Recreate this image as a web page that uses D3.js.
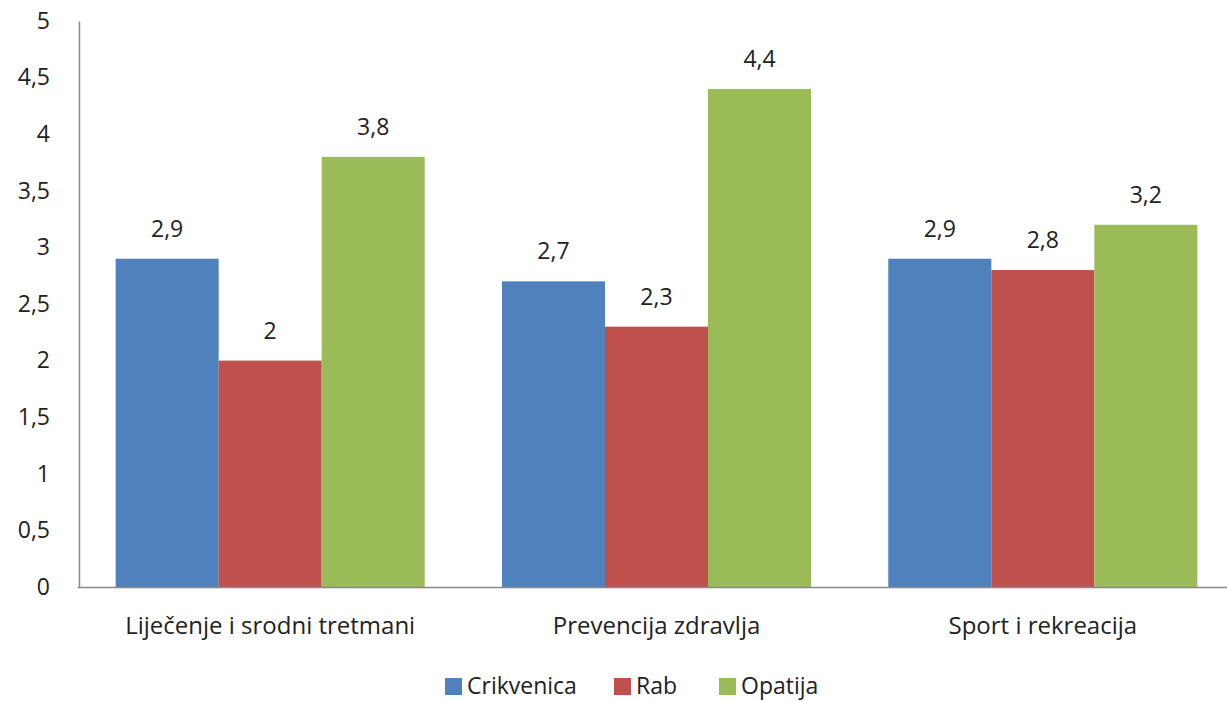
<!DOCTYPE html>
<html>
<head>
<meta charset="utf-8">
<script src="https://cdn.jsdelivr.net/npm/d3@7"></script>
<style>
  body { margin: 0; background: white; }
  text { font-family: "Open Sans", Lato, sans-serif; fill: #222; }
</style>
</head>
<body>
<div id="chart"></div>
<script>
var categories = ["Liječenje i srodni tretmani", "Prevencija zdravlja", "Sport i rekreacija"];
var seriesNames = ["Crikvenica", "Rab", "Opatija"];
var seriesColors = ["#4F81BD", "#C0504D", "#9BBB59"];
var crikvenica = [2.9, 2.7, 2.9];
var rab = [2.0, 2.3, 2.8];
var opatija = [3.8, 4.4, 3.2];
var yTicks = [0, 0.5, 1, 1.5, 2, 2.5, 3, 3.5, 4, 4.5, 5];

var seriesValues = [crikvenica, rab, opatija];
var width = 1227, height = 701;
var plotLeft = 79, plotRight = 1236, plotTop = 21, plotBottom = 587;
var font = "'Open Sans', Lato, sans-serif";

var fmt = function (v) { return String(v).replace(".", ","); };

var svg = d3.select("#chart").append("svg")
            .attr("width", width)
            .attr("height", height);

var x = d3.scaleBand().domain(categories).range([plotLeft - 2, plotRight]).paddingInner(0.2).paddingOuter(0.1);
var xs = d3.scaleBand().domain(seriesNames).range([0, x.bandwidth()]);
var y = d3.scaleLinear().domain([0, 5]).range([plotBottom, plotTop]);

// bars
var groups = svg.selectAll("g.group")
                .data(categories)
                .enter()
                .append("g")
                .attr("class", "group")
                .attr("transform", function (d) { return "translate(" + x(d) + ",0)"; });

groups.selectAll("rect")
      .data(function (d, i) { return seriesNames.map(function (s, j) { return { s: s, j: j, v: seriesValues[j][i] }; }); })
      .enter()
      .append("rect")
      .attr("x", function (d) { return xs(d.s); })
      .attr("y", function (d) { return y(d.v); })
      .attr("width", xs.bandwidth())
      .attr("height", function (d) { return plotBottom - y(d.v); })
      .style("fill", function (d) { return seriesColors[d.j]; });

groups.selectAll("text.val")
      .data(function (d, i) { return seriesNames.map(function (s, j) { return { s: s, v: seriesValues[j][i] }; }); })
      .enter()
      .append("text")
      .attr("class", "val")
      .attr("x", function (d) { return xs(d.s) + xs.bandwidth() / 2; })
      .attr("y", function (d) { return y(d.v) - 22; })
      .attr("text-anchor", "middle")
      .style("font-size", "23px")
      .text(function (d) { return fmt(d.v); });

// y axis
var yAxis = svg.append("g")
               .attr("transform", "translate(" + plotLeft + ",0)")
               .call(d3.axisLeft(y).tickValues(yTicks).tickSize(0).tickPadding(29).tickFormat(fmt));
yAxis.select(".domain").attr("stroke", "#888").attr("stroke-width", 1.5);
yAxis.selectAll("text").style("font-size", "23px").style("font-family", font).style("fill", "#222");

// x axis
var xAxis = svg.append("g")
               .attr("transform", "translate(0," + plotBottom + ")")
               .call(d3.axisBottom(x).tickSize(0).tickPadding(30));
xAxis.select(".domain").attr("stroke", "#888").attr("stroke-width", 1.5);
xAxis.selectAll("text").style("font-size", "24px").style("font-family", font).style("fill", "#222");

// legend
var legendX = [445, 614, 719];
var legend = svg.selectAll("g.legend")
                .data(seriesNames)
                .enter()
                .append("g")
                .attr("class", "legend")
                .attr("transform", function (d, i) { return "translate(" + legendX[i] + ",678)"; });
legend.append("rect")
      .attr("width", 17).attr("height", 17)
      .style("fill", function (d, i) { return seriesColors[i]; });
legend.append("text")
      .attr("x", 22).attr("y", 16)
      .style("font-size", "23px")
      .text(function (d) { return d; });
</script>
</body>
</html>
